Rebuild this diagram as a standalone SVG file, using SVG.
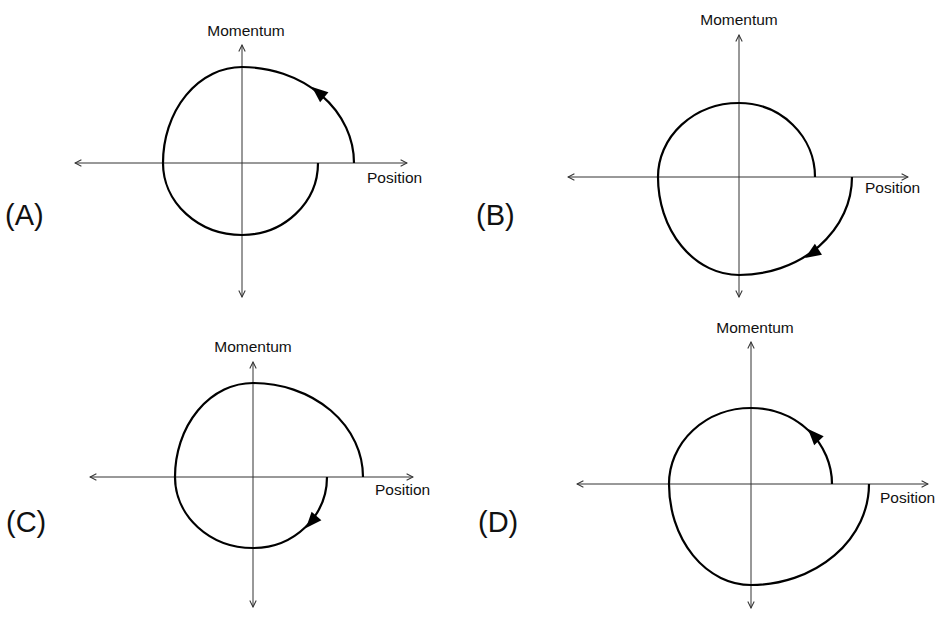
<svg xmlns="http://www.w3.org/2000/svg" xmlns:xlink="http://www.w3.org/1999/xlink" width="946" height="625" viewBox="0 0 946 625">
<style>
.axis{stroke:#333;stroke-width:1;fill:none;marker-start:url(#ax);marker-end:url(#ax)}
.orbit{stroke:#000;stroke-width:2.2;fill:none}
.lbl{font-family:"Liberation Sans",Arial,sans-serif;font-size:15.5px;fill:#111}
.tag{font-family:"Liberation Sans",Arial,sans-serif;font-size:29px;fill:#111}
</style>
<defs>
<marker id="ax" viewBox="0 0 10 10" refX="9" refY="5" markerWidth="8" markerHeight="8" markerUnits="userSpaceOnUse" orient="auto-start-reverse">
<path d="M1,1 L9,5 L1,9" fill="none" stroke="#333" stroke-width="1.3"/>
</marker>
<path id="ah" d="M0,0 L-16,-6.5 L-16,6.5 Z" fill="#000"/>
</defs>
<rect width="946" height="625" fill="#fff"/>
<g id="connectors">
<line class="axis" x1="75" y1="163" x2="407" y2="163"/>
<line class="axis" x1="242" y1="297" x2="242" y2="45"/>
<line class="axis" x1="568" y1="177" x2="908" y2="177"/>
<line class="axis" x1="739" y1="297" x2="739" y2="35"/>
<line class="axis" x1="90" y1="477" x2="413" y2="477"/>
<line class="axis" x1="253" y1="607" x2="253" y2="362"/>
<line class="axis" x1="577" y1="484" x2="928" y2="484"/>
<line class="axis" x1="751" y1="608" x2="751" y2="342"/>
</g>
<g id="panelA">
<path class="orbit" d="M354,163 A112,96 0 0 0 242,67 A79,96 0 0 0 163,163 A79,72 0 0 0 242,235 A76,72 0 0 0 318,163"/>
<use xlink:href="#ah" href="#ah" transform="translate(312,87) rotate(220)"/>
<text class="lbl" x="246" y="36" text-anchor="middle">Momentum</text>
<text class="lbl" x="367" y="183">Position</text>
<text class="tag" x="5" y="225">(A)</text>
</g>
<g id="panelB">
<path class="orbit" d="M815,177 A76,74 0 0 0 739,103 A81,74 0 0 0 658,177 A81,98 0 0 0 739,275 A113,98 0 0 0 852,177"/>
<use xlink:href="#ah" href="#ah" transform="translate(805,258) rotate(147)"/>
<text class="lbl" x="739" y="25" text-anchor="middle">Momentum</text>
<text class="lbl" x="865" y="193">Position</text>
<text class="tag" x="476" y="225">(B)</text>
</g>
<g id="panelC">
<path class="orbit" d="M363,477 A110,94 0 0 0 253,383 A78,94 0 0 0 175,477 A78,71 0 0 0 253,548 A74,71 0 0 0 327,477"/>
<use xlink:href="#ah" href="#ah" transform="translate(306,528) rotate(131)"/>
<text class="lbl" x="253" y="352" text-anchor="middle">Momentum</text>
<text class="lbl" x="375" y="495">Position</text>
<text class="tag" x="6" y="532">(C)</text>
</g>
<g id="panelD">
<path class="orbit" d="M832,484 A81,76 0 0 0 751,408 A82,76 0 0 0 669,484 A82,101 0 0 0 751,585 A118,101 0 0 0 869,484"/>
<use xlink:href="#ah" href="#ah" transform="translate(808,429) rotate(227)"/>
<text class="lbl" x="755" y="333" text-anchor="middle">Momentum</text>
<text class="lbl" x="880" y="503">Position</text>
<text class="tag" x="478" y="532">(D)</text>
</g>
</svg>
